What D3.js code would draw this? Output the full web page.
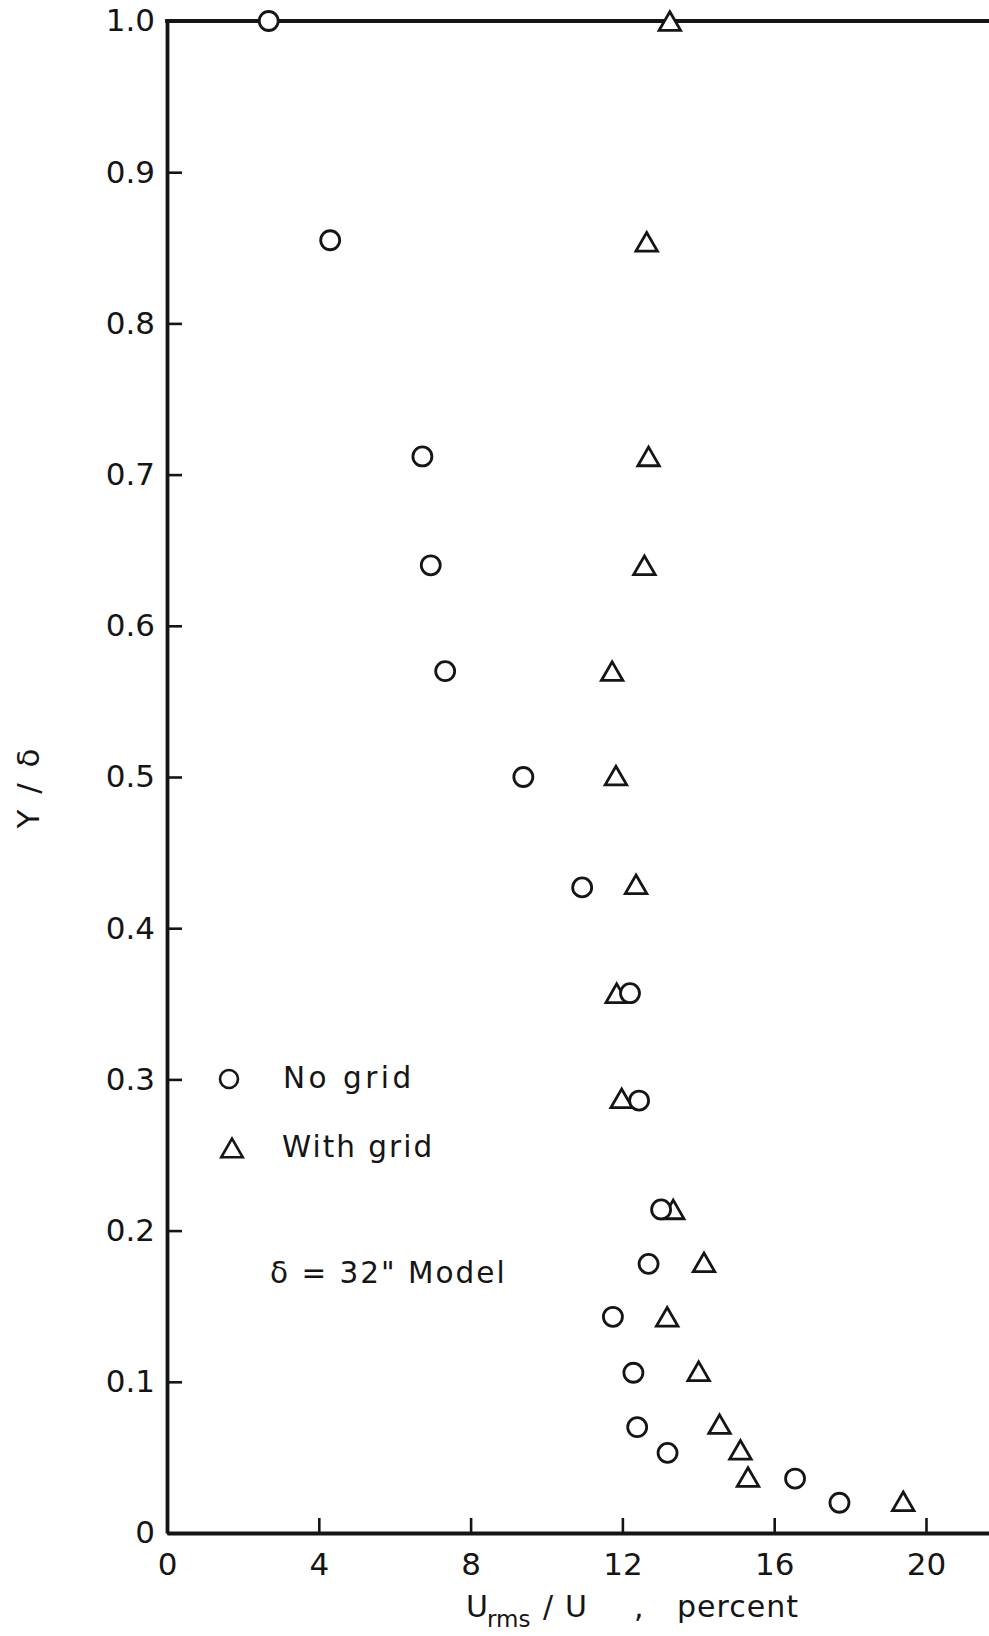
<!DOCTYPE html>
<html>
<head>
<meta charset="utf-8">
<script src="https://cdn.jsdelivr.net/npm/d3@7"></script>
<style>
  html, body { margin: 0; padding: 0; background: #fff; }
  svg { display: block; }
  text { font-family: "DejaVu Sans", sans-serif; fill: #151515; }
</style>
</head>
<body>
<script>
// ---- data ----
const noGridX = [2.68, 4.30, 6.73, 6.95, 7.33, 9.39, 10.94, 12.20, 12.44, 13.02, 12.69, 11.75, 12.29, 12.39, 13.19, 16.55, 17.72];
const noGridY = [1.000, 0.855, 0.712, 0.640, 0.570, 0.500, 0.427, 0.357, 0.286, 0.214, 0.178, 0.143, 0.106, 0.070, 0.053, 0.036, 0.020];
const withGridX = [13.25, 12.64, 12.69, 12.58, 11.73, 11.83, 12.36, 11.85, 11.98, 13.34, 14.15, 13.18, 14.01, 14.56, 15.11, 15.31, 19.40];
const withGridY = [1.000, 0.854, 0.712, 0.640, 0.570, 0.501, 0.429, 0.357, 0.2875, 0.214, 0.179, 0.143, 0.107, 0.072, 0.055, 0.037, 0.021];
const xTickValues = [0, 4, 8, 12, 16, 20];
const xTickLabels = ["0", "4", "8", "12", "16", "20"];
const yTickValues = [0, 0.1, 0.2, 0.3, 0.4, 0.5, 0.6, 0.7, 0.8, 0.9, 1.0];
const yTickLabels = ["0", "0.1", "0.2", "0.3", "0.4", "0.5", "0.6", "0.7", "0.8", "0.9", "1.0"];
const legendLabels = ["No grid", "With grid"];
const noteText = "\u03B4 = 32\" Model";

// ---- layout ----
const W = 989, H = 1636;
const svg = d3.select("body").append("svg").attr("width", W).attr("height", H);
svg.append("rect").attr("width", W).attr("height", H).attr("fill", "#fff");

const x = d3.scaleLinear().domain([0, 21.7]).range([167, 990.5]);
const y = d3.scaleLinear().domain([0, 1]).range([1533, 21]);
const ink = "#151515";

// x axis
const xAxis = d3.axisBottom(x)
  .tickValues(xTickValues)
  .tickFormat((d, i) => xTickLabels[i])
  .tickSizeInner(-15).tickSizeOuter(0).tickPadding(20);
const gx = svg.append("g").attr("transform", `translate(0,${y(0)})`).call(xAxis);
gx.select(".domain").attr("stroke", ink).attr("stroke-width", 4);
gx.selectAll(".tick line").attr("stroke", ink).attr("stroke-width", 2.6);
gx.selectAll(".tick text").attr("font-size", 31).attr("font-family", "DejaVu Sans").attr("fill", ink);

// y axis
const yAxis = d3.axisLeft(y)
  .tickValues(yTickValues)
  .tickFormat((d, i) => yTickLabels[i])
  .tickSizeInner(-15).tickSizeOuter(0).tickPadding(12);
const gy = svg.append("g").attr("transform", `translate(${x(0)},0)`).call(yAxis);
gy.select(".domain").attr("stroke", ink).attr("stroke-width", 3.8);
gy.selectAll(".tick line").attr("stroke", ink).attr("stroke-width", 2.6);
gy.selectAll(".tick text").attr("font-size", 31).attr("font-family", "DejaVu Sans").attr("fill", ink);

// top boundary line at Y/delta = 1
svg.append("line")
  .attr("x1", x(0) - 1.9).attr("x2", x(21.7))
  .attr("y1", y(1)).attr("y2", y(1))
  .attr("stroke", ink).attr("stroke-width", 4);

// symbols
const triSide = 21.5;
const triangleType = {
  draw(ctx, size) {
    const s = triSide, h = s * Math.sqrt(3) / 2;
    ctx.moveTo(0, -h / 2);
    ctx.lineTo(s / 2, h / 2);
    ctx.lineTo(-s / 2, h / 2);
    ctx.closePath();
  }
};
const triPath = d3.symbol().type(triangleType).size(1)();

const noGrid = noGridX.map((v, i) => ({ x: v, y: noGridY[i] }));
const withGrid = withGridX.map((v, i) => ({ x: v, y: withGridY[i] }));

svg.append("g").selectAll("path").data(withGrid).join("path")
  .attr("d", triPath)
  .attr("transform", d => `translate(${x(d.x)},${y(d.y)})`)
  .attr("fill", "#fff").attr("stroke", ink).attr("stroke-width", 2.8)
  .attr("stroke-linejoin", "miter");

svg.append("g").selectAll("circle").data(noGrid).join("circle")
  .attr("cx", d => x(d.x)).attr("cy", d => y(d.y)).attr("r", 9.5)
  .attr("fill", "#fff").attr("stroke", ink).attr("stroke-width", 2.8);

// legend
const lg = svg.append("g");
lg.append("circle").attr("cx", 229).attr("cy", 1079).attr("r", 9)
  .attr("fill", "#fff").attr("stroke", ink).attr("stroke-width", 2.6);
lg.append("path").attr("d", triPath).attr("transform", "translate(232,1148)")
  .attr("fill", "#fff").attr("stroke", ink).attr("stroke-width", 2.6);
lg.append("text").attr("x", 283).attr("y", 1088).attr("font-size", 29.5)
  .attr("letter-spacing", 3.5).text(legendLabels[0]);
lg.append("text").attr("x", 282).attr("y", 1157).attr("font-size", 29.5)
  .attr("letter-spacing", 2).text(legendLabels[1]);
lg.append("text").attr("x", 270).attr("y", 1283).attr("font-size", 29.5)
  .attr("letter-spacing", 2).attr("xml:space", "preserve").text(noteText);

// y axis title
svg.append("text")
  .attr("transform", "translate(39,787) rotate(-90)")
  .attr("text-anchor", "middle").attr("font-size", 31)
  .attr("letter-spacing", 3)
  .text("Y / \u03B4");

// x axis title
const xt = svg.append("text").attr("y", 1617).attr("font-size", 30);
xt.append("tspan").attr("x", 466).text("U");
xt.append("tspan").attr("x", 487).attr("dy", 10).attr("font-size", 23).text("rms");
xt.append("tspan").attr("x", 543).attr("dy", -10).text("/");
xt.append("tspan").attr("x", 565).text("U");
xt.append("tspan").attr("x", 634).text(",");
xt.append("tspan").attr("x", 677).attr("letter-spacing", 1).text("percent");
</script>
</body>
</html>
